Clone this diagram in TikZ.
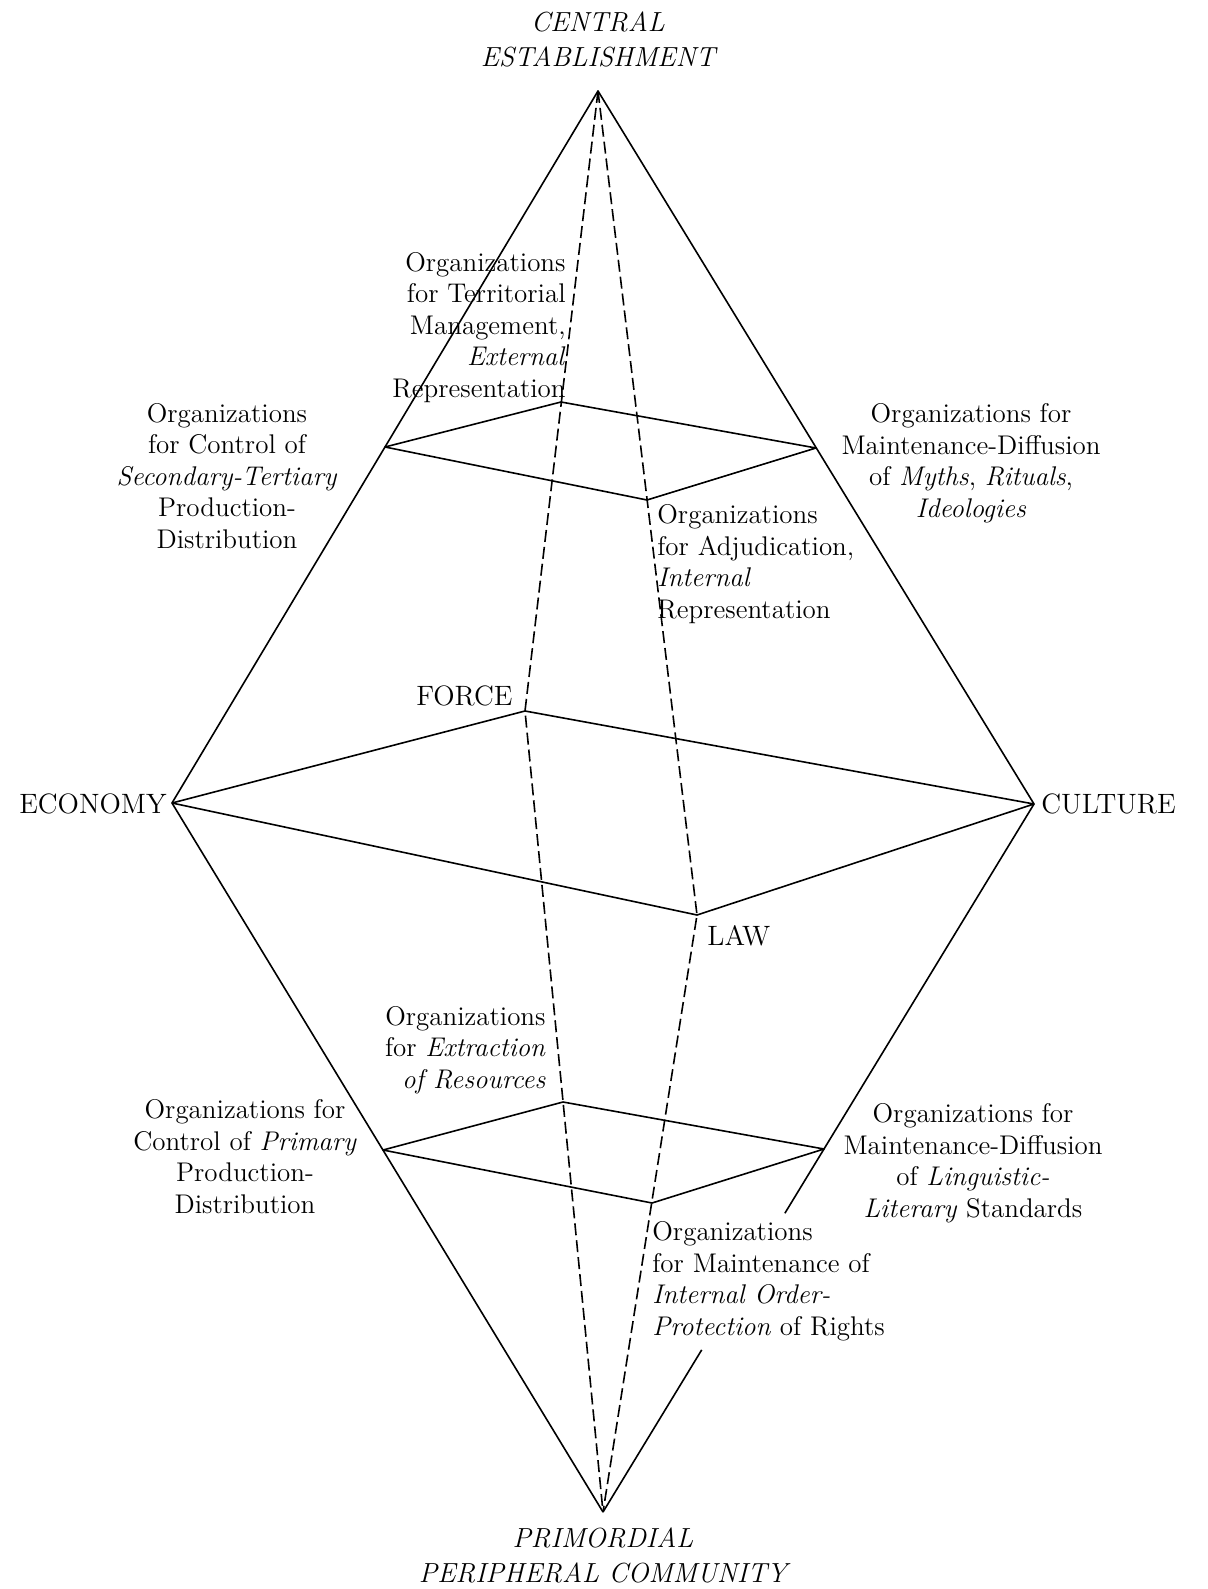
\documentclass[tikz,border=0pt]{standalone}
\usepackage{fontspec}
\usetikzlibrary{calc}
\newcommand\lbfont{\fontsize{13.5}{15.7}\selectfont}
\newcommand\ttlfont{\fontsize{13.8}{17.5}\selectfont\itshape\addfontfeature{LetterSpace=35}}
\newcommand\capfont{\fontsize{14}{15.7}\selectfont\addfontfeature{LetterSpace=13}}
\begin{document}
\begin{tikzpicture}[x=0.5pt,y=-0.5pt,
  edge/.style={line width=0.8pt, line join=round},
  dashedge/.style={line width=0.8pt, dash pattern=on 6pt off 2.5pt},
  lbl/.style={font=\lbfont, inner sep=0pt},
  ttl/.style={font=\ttlfont, inner sep=0pt, align=center},
  vtx/.style={font=\capfont, inner sep=0pt}]
\useasboundingbox (0,0) rectangle (1208,1589);
% vertices
\coordinate (top) at (598,91);
\coordinate (bot) at (603,1512);
\coordinate (eco) at (172,803);
\coordinate (cul) at (1034,804);
\coordinate (force) at (525,711);
\coordinate (law) at (697,915);
\coordinate (uL) at (385,447);
\coordinate (uT) at (561,402);
\coordinate (uR) at (816,448);
\coordinate (uB) at (647,500);
\coordinate (lL) at (383,1150);
\coordinate (lT) at (563,1102);
\coordinate (lR) at (824,1149);
\coordinate (lB) at (652,1203);
% outer edges
\draw[edge] (eco) -- (top) -- (cul);
\draw[edge] (eco) -- (bot);
\draw[edge] (cul) -- ($(cul)!0.578!(bot)$);
\draw[edge] ($(cul)!0.771!(bot)$) -- (bot);
% dashed verticals
\draw[dashedge] (top) -- (force) -- (bot);
\draw[dashedge] (top) -- (law) -- (bot);
% planes
\draw[edge] (eco) -- (force) -- (cul) -- (law) -- cycle;
\draw[edge] (uL) -- (uT) -- (uR) -- (uB) -- cycle;
\draw[edge] (lL) -- (lT) -- (lR) -- (lB) -- cycle;
% labels (base anchor = baseline of last line)
\node[ttl, anchor=base] (central) at (598,67) {CENTRAL\\ESTABLISHMENT};
\node[ttl, anchor=base] (primordial) at (603,1582) {PRIMORDIAL\\PERIPHERAL COMMUNITY};
\node[vtx, anchor=base east] (economy) at (167,813) {ECONOMY};
\node[vtx, anchor=base west] (culture) at (1041,813) {CULTURE};
\node[vtx, anchor=base east] (forcel) at (513,705) {FORCE};
\node[vtx, anchor=base west] (lawl) at (707,945) {LAW};
\node[lbl, anchor=base east, align=right] (terr) at (566,397)
  {Organizations\\for Territorial\\Management,\\\textit{External}\\Representation};
\node[lbl, anchor=base, align=center] (sec) at (227,548)
  {Organizations\\for Control of\\\textit{Secondary-Tertiary}\\Production-\\Distribution};
\node[lbl, anchor=base, align=center] (myth) at (971,517)
  {Organizations for\\Maintenance-Diffusion\\of \textit{Myths}, \textit{Rituals},\\\textit{Ideologies}};
\node[lbl, anchor=base west, align=left] (adj) at (657,618)
  {Organizations\\for Adjudication,\\\textit{Internal}\\Representation};
\node[lbl, anchor=base east, align=right] (extr) at (546,1088)
  {Organizations\\for \textit{Extraction}\\\textit{of Resources}};
\node[lbl, anchor=base, align=center] (prim) at (245,1213)
  {Organizations for\\Control of \textit{Primary}\\Production-\\Distribution};
\node[lbl, anchor=base, align=center] (ling) at (973,1217)
  {Organizations for\\Maintenance-Diffusion\\of \textit{Linguistic-}\\\textit{Literary} Standards};
\node[lbl, anchor=base west, align=left] (order) at (652,1335)
  {Organizations\\for Maintenance of\\\textit{Internal Order-}\\\textit{Protection} of Rights};
\end{tikzpicture}
\end{document}
